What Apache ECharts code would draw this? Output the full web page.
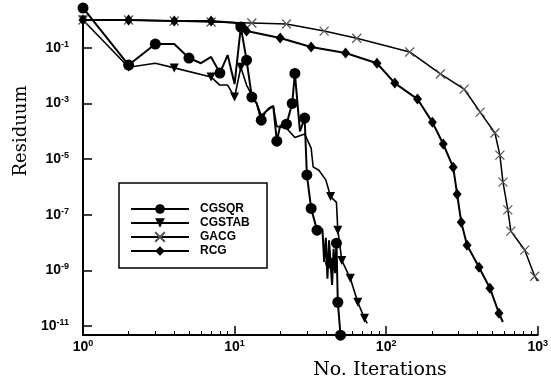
<!DOCTYPE html>
<html>
<head>
<meta charset="utf-8">
<script src="https://cdn.jsdelivr.net/npm/echarts@6/dist/echarts.min.js"></script>
<style>html,body{margin:0;padding:0;background:#fff}#c{width:551px;height:383px}</style>
</head>
<body>
<div id="c"></div>
<script>
// ---- data (iterations, residuals, marker flags) ----
const cgsqrIter = [1,2,3,4,5,6,7,8,9,10,11,12,13,14,15,16,17,18,19,20,22,24,25,27,29,30,32,35,38,39,40,41,42,43,44,45,46,47,48,50];
const cgsqrRes  = [2.7,0.024,0.137,0.137,0.043,0.028,0.047,0.0124,0.055,5.0e-3,0.56,0.036,1.7e-3,1.0e-3,2.5e-4,5e-4,7e-4,8.1e-4,4.4e-5,1.6e-4,1.8e-4,1.0e-3,0.012,1.0e-4,3.0e-4,2.7e-6,1.7e-7,2.8e-8,3.0e-8,2e-9,1.5e-8,5e-10,1.2e-8,1.8e-9,3e-10,6e-9,8e-10,9.5e-9,7.2e-11,4.7e-12];
const cgsqrMark = [1,1,1,0,1,0,0,1,0,0,1,1,1,0,1,0,0,0,1,0,1,1,1,0,1,1,1,1,0,0,0,0,0,1,0,0,0,1,1,1];

const cgstabIter = [1,2,3,4,7,8,9,10,11,12,13,14,15,18,19,22,25,29,32,33,36,40,43,47,48,51,58,65,72,75];
const cgstabRes  = [1.0,0.020,0.028,0.019,8.9e-3,4.6e-3,4.6e-3,1.7e-3,0.020,4.6e-3,2.0e-3,1.0e-3,3.8e-4,8.1e-4,1.5e-4,1.3e-4,6e-5,8e-5,2.5e-5,5.2e-6,4e-6,1.8e-6,4.5e-7,2.8e-7,2.8e-8,2.3e-9,5.2e-10,7.2e-11,1.9e-11,1.26e-11];
const cgstabMark = [1,1,0,1,1,0,0,1,1,0,0,0,0,0,0,0,0,0,0,0,0,0,1,0,1,1,1,1,1,0];

const gacgIter = [1,2,4,7,13,22,39,64,143,228,327,417,522,563,590,635,665,821,955,998];
const gacgRes  = [1.0,1.0,0.92,0.85,0.78,0.72,0.40,0.22,0.071,0.0115,3.3e-3,4.9e-4,8.7e-5,1.4e-5,1.5e-6,1.5e-7,2.6e-8,5.4e-9,6.2e-10,4.1e-10];
const gacgMark = [1,1,1,1,1,1,1,1,1,1,1,1,1,1,1,1,1,1,1,0];

const rcgIter = [1,2,4,7,10,12,20,32,54,87,114,161,202,238,277,294,313,342,410,484,555,589];
const rcgRes  = [1.0,1.0,0.92,0.92,0.8,0.40,0.225,0.107,0.065,0.028,5.4e-3,1.44e-3,2.1e-4,3.5e-5,5.1e-6,5.5e-7,5.4e-8,8.1e-9,1.3e-9,2.3e-10,2.9e-11,1.4e-11];
const rcgMark = [1,1,1,1,0,1,1,1,1,1,1,1,1,1,1,1,1,1,1,1,1,0];

const seriesNames = ['CGSQR','CGSTAB','GACG','RCG'];
const yTickExps = [-11,-9,-7,-5,-3,-1];
const xTickExps = [0,1,2,3];
const xMinorTicks = [2,3,4,5,6,7,8,9,20,30,40,50,60,70,80,90,200,300,400,500,600,700,800,900];

// ---- build ----
function pts(iter, res, mark) {
  return iter.map((n, i) => mark[i] ? [Math.log10(n), Math.log10(res[i])]
                                    : {value: [Math.log10(n), Math.log10(res[i])], symbol: 'none'});
}
const chart = echarts.init(document.getElementById('c'), null, {renderer: 'canvas'});
const labRich = {
  b: {fontFamily: 'Liberation Sans', fontWeight: 'bold', fontSize: 14, color: '#000', lineHeight: 16},
  s: {fontFamily: 'Liberation Sans', fontWeight: 'bold', fontSize: 9, color: '#000', verticalAlign: 'top', lineHeight: 10}
};
const fmt = v => '{b|10}{s|' + Math.round(v) + '}';
chart.setOption({
  animation: false,
  backgroundColor: '#fff',
  grid: {left: 83, right: 10, top: 20, bottom: 48, containLabel: false},
  xAxis: [{
    type: 'value', min: 0, max: 3, position: 'bottom', offset: 0,
    axisLine: {show: true, onZero: false, lineStyle: {color: '#000', width: 2}},
    axisTick: {show: true, inside: true, length: 9, customValues: xTickExps.slice(1), lineStyle: {color: '#000', width: 1.5}},
    axisLabel: {show: true, margin: 4, customValues: xTickExps, formatter: fmt, rich: labRich},
    splitLine: {show: false}
  }, {
    type: 'value', min: 0, max: 3, position: 'bottom', offset: 0,
    axisLine: {show: false, onZero: false},
    axisTick: {show: true, inside: true, length: 4, customValues: xMinorTicks.map(v => Math.log10(v)), lineStyle: {color: '#000', width: 1}},
    axisLabel: {show: false},
    splitLine: {show: false}
  }],
  yAxis: {
    type: 'value', min: -11.32, max: 0,
    axisLine: {show: true, onZero: false, lineStyle: {color: '#000', width: 2}},
    axisTick: {show: true, inside: true, length: 9, customValues: yTickExps, lineStyle: {color: '#000', width: 1.5}},
    axisLabel: {show: true, margin: 14, customValues: yTickExps, formatter: fmt, rich: labRich},
    splitLine: {show: false}
  },
  legend: {
    data: seriesNames, orient: 'vertical', left: 130, top: 203,
    itemWidth: 58, itemHeight: 12, itemGap: 2, padding: 0,
    textStyle: {fontFamily: 'Liberation Sans', fontWeight: 'bold', fontSize: 12, color: '#000', padding: [0, 0, 0, 6]}
  },
  graphic: [
    {type: 'rect', shape: {x: 119, y: 183, width: 148, height: 85}, style: {fill: 'none', stroke: '#000', lineWidth: 1.5}},
    {type: 'text', x: 380, y: 370, style: {text: 'No. Iterations', font: '19px "DejaVu Serif"', fill: '#000', textAlign: 'center', textVerticalAlign: 'middle'}},
    {type: 'text', x: 21, y: 131, rotation: Math.PI / 2, style: {text: 'Residuum', font: '18px "DejaVu Serif"', fill: '#000', textAlign: 'center', textVerticalAlign: 'middle'}}
  ],
  series: [
    {name: 'CGSQR', type: 'line', clip: false, data: pts(cgsqrIter, cgsqrRes, cgsqrMark),
     symbol: 'circle', symbolSize: 11, showAllSymbol: true,
     lineStyle: {color: '#000', width: 2}, itemStyle: {color: '#000'}},
    {name: 'CGSTAB', type: 'line', clip: false, data: pts(cgstabIter, cgstabRes, cgstabMark),
     symbol: 'triangle', symbolRotate: 180, symbolSize: 9, showAllSymbol: true,
     lineStyle: {color: '#000', width: 1.6}, itemStyle: {color: '#000'}},
    {name: 'GACG', type: 'line', clip: false, data: pts(gacgIter, gacgRes, gacgMark),
     symbol: 'path://M0,0L10,10M10,0L0,10', symbolSize: 9, showAllSymbol: true,
     lineStyle: {color: '#000', width: 1.5}, itemStyle: {color: '#555', borderColor: '#555', borderWidth: 1.2}},
    {name: 'RCG', type: 'line', clip: false, data: pts(rcgIter, rcgRes, rcgMark),
     symbol: 'diamond', symbolSize: [9, 11], showAllSymbol: true,
     lineStyle: {color: '#000', width: 2}, itemStyle: {color: '#000'}}
  ]
});
</script>
</body>
</html>
